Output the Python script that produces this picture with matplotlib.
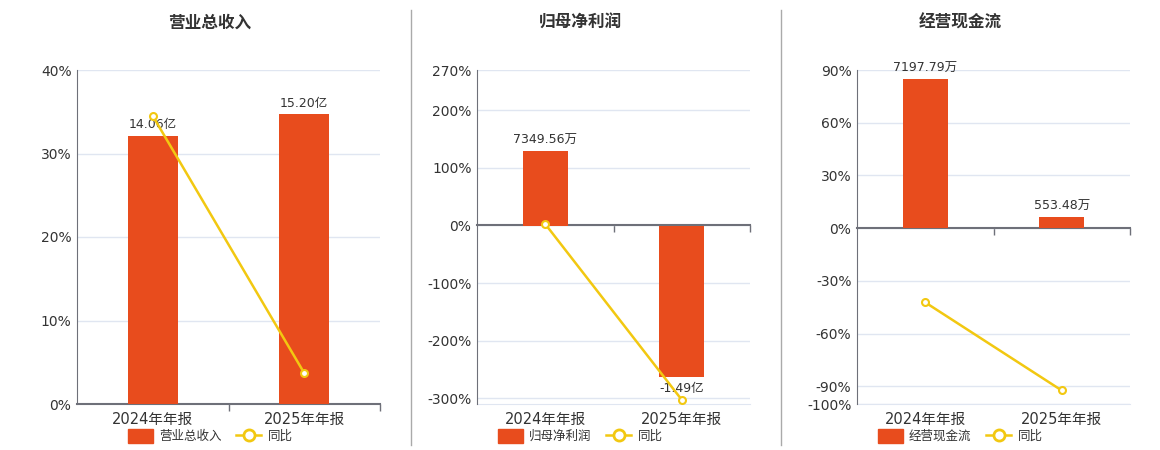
import matplotlib.pyplot as plt
from matplotlib.lines import Line2D
from matplotlib.patches import Patch

plt.rcParams['font.family'] = ['DejaVu Sans', 'Noto Sans CJK SC']

periods = ['2024年年报', '2025年年报']
titles = ['营业总收入', '归母净利润', '经营现金流']
bar_names = ['营业总收入', '归母净利润', '经营现金流']

revenue = [14.06, 15.20]          # 亿
revenue_yoy = [34.5, 3.7]         # %
profit = [7349.56, -14900.0]      # 万
profit_yoy = [2.5, -302.7]
cashflow = [7197.79, 553.48]      # 万
cashflow_yoy = [-42.2, -92.3]

bar_labels = [['14.06亿', '15.20亿'],
              ['7349.56万', '-1.49亿'],
              ['7197.79万', '553.48万']]

pct_ticks = [[0, 10, 20, 30, 40],
             [-300, -200, -100, 0, 100, 200, 270],
             [-100, -90, -60, -30, 0, 30, 60, 90]]
pct_lims = [(0, 40), (-310, 270), (-100, 90)]
bar_lims = [(0, 17.5), (-17500, 15250), (-8460, 7614)]

BAR = '#e84c1d'
LINE = '#f2c811'
TXT = '#333333'
AXC = '#6e7079'
GRID = '#e0e6f1'

W, H = 1160, 450
fig = plt.figure(figsize=(W / 100, H / 100), dpi=100)

lefts = [77, 477, 857]
rights = [380, 750, 1130]
centers = [210, 580, 960]
top, bottom = 70, 404

bar_vals = [revenue, profit, cashflow]
yoy_vals = [revenue_yoy, profit_yoy, cashflow_yoy]
x = [0, 1]

for i in range(3):
    rect = [lefts[i] / W, 1 - bottom / H, (rights[i] - lefts[i]) / W, (bottom - top) / H]
    ax = fig.add_axes(rect)
    ax.set_xlim(-0.5, 1.5)
    ax.set_ylim(*pct_lims[i])
    ax.set_yticks(pct_ticks[i], [f'{t}%' for t in pct_ticks[i]])
    ax.grid(axis='y', color=GRID, lw=1)
    ax.set_axisbelow(True)
    ax.tick_params(axis='y', length=0, pad=4, labelsize=10, labelcolor=TXT)
    for s in ['top', 'right']:
        ax.spines[s].set_visible(False)
    ax.spines['left'].set_color(AXC)

    # zero line with ticks at the category boundaries
    ax.spines['bottom'].set_position(('data', 0))
    ax.spines['bottom'].set_color(AXC)
    ax.spines['bottom'].set_linewidth(1.5)
    ax.spines['bottom'].set_zorder(4)
    ax.set_xticks([0.5, 1.5], ['', ''])
    ax.tick_params(axis='x', length=5, width=1, color=AXC, direction='out')

    # category labels at the bottom edge
    sec = ax.secondary_xaxis('bottom')
    sec.set_xticks(x, periods)
    sec.tick_params(length=0, pad=6, labelsize=10.5, labelcolor=TXT)
    sec.spines['bottom'].set_color(GRID)
    if i == 0:
        sec.spines['bottom'].set_visible(False)

    # bars on a hidden axis
    ax2 = ax.twinx()
    ax2.set_ylim(*bar_lims[i])
    bars = ax2.bar(x, bar_vals[i], width=0.33, color=BAR, zorder=2)
    ax2.bar_label(bars, labels=bar_labels[i], padding=3, fontsize=9, color=TXT)
    ax2.set_yticks([])
    for s in ax2.spines.values():
        s.set_visible(False)

    # yoy line on top
    ax3 = ax.twinx()
    ax3.set_ylim(*pct_lims[i])
    ax3.plot(x, yoy_vals[i], color=LINE, lw=1.8, marker='o', ms=5,
             mfc='white', mec=LINE, mew=1.5, clip_on=False)
    ax3.set_yticks([])
    for s in ax3.spines.values():
        s.set_visible(False)

    fig.text(centers[i] / W, 1 - 23 / H, titles[i], ha='center', va='center',
             fontsize=12, fontweight='bold', color=TXT,
             family=['Noto Sans CJK SC', 'DejaVu Sans'])

    handles = [Patch(color=BAR, label=bar_names[i]),
               Line2D([], [], color=LINE, lw=1.8, marker='o', ms=8,
                      mfc='white', mec=LINE, mew=2, label='同比')]
    fig.legend(handles=handles, loc='center', bbox_to_anchor=(centers[i] / W, 1 - 436 / H),
               ncol=2, frameon=False, fontsize=9, handlelength=2, handleheight=1.3,
               columnspacing=1.2, handletextpad=0.5, labelcolor=TXT)

for sx in [410.5, 781]:
    fig.add_artist(Line2D([sx / W, sx / W], [1 - 445 / H, 1 - 10 / H], color='#aaaaaa', lw=1))

fig.savefig('out.png', dpi=100)
